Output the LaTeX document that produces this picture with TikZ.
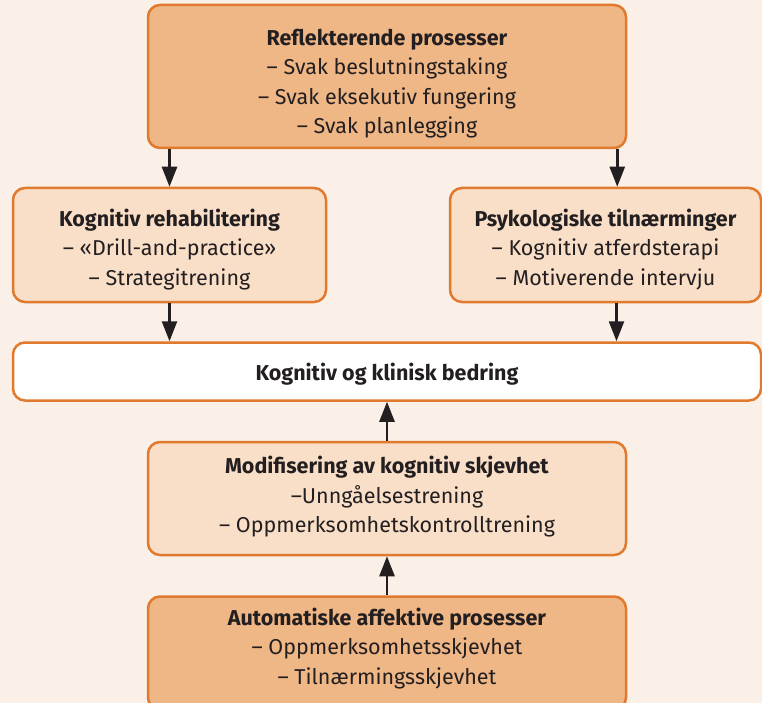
\documentclass[tikz,border=0pt]{standalone}
\usepackage{fontspec}
\setmainfont{Fira Sans}
\usetikzlibrary{positioning,arrows.meta}

\definecolor{bgpeach}{HTML}{FAF0E8}
\definecolor{boxdark}{HTML}{EFB686}
\definecolor{boxlight}{HTML}{F9DEC8}
\definecolor{boxedge}{HTML}{E07A2E}
\definecolor{inkdark}{HTML}{231F20}

% centred lines of a box, lowered by #1 without changing the box size
\newcommand{\stagetext}[2]{\raisebox{#1}[\height][\depth]{\begin{tabular}{@{}c@{}}#2\end{tabular}}}

\tikzset{
    stagebox/.style={
        rectangle,
        rounded corners=12pt,
        draw=boxedge,
        line width=2.5pt,
        inner sep=0pt,
        text=inkdark,
        font=\fontsize{21.5}{29.5}\selectfont
    },
    darkbox/.style={stagebox, fill=boxdark},
    lightbox/.style={stagebox, fill=boxlight},
    flowarrow/.style={
        draw=inkdark,
        line width=2.5pt,
        -{Triangle[length=20pt,width=15pt]}
    }
}

\begin{document}
\begin{tikzpicture}[x=1pt, y=-1pt]

    \fill[bgpeach] (0,0) rectangle (762,703);
    \useasboundingbox (0,0) rectangle (762,703);

    \node[darkbox, minimum width=478pt, minimum height=143pt] (refl) at (387,76.5)
        {\stagetext{-7pt}{\textbf{Reflekterende prosesser}\\– Svak beslutningstaking\\– Svak eksekutiv fungering\\– Svak planlegging}};

    \node[stagebox, fill=white, minimum width=748pt, minimum height=58pt] (bedring) [below=192pt of refl]
        {\stagetext{-3pt}{\textbf{Kognitiv og klinisk bedring}}};

    \node[lightbox, minimum width=313pt, minimum height=114pt] (rehab) [above right=38pt and 0pt of bedring.north west]
        {\stagetext{-5pt}{\textbf{Kognitiv rehabilitering}\\– «Drill-and-practice»\\– Strategitrening}};
    \node[lightbox, minimum width=311pt, minimum height=114pt] (psyk) [above left=38pt and 0pt of bedring.north east]
        {\stagetext{-5pt}{\textbf{Psykologiske tilnærminger}\\– Kognitiv atferdsterapi\\– Motiverende intervju}};

    \node[lightbox, minimum width=478pt, minimum height=113pt] (modif) [below=39pt of bedring]
        {\stagetext{1pt}{\textbf{Modifisering av kognitiv skjevhet}\\–Unngåelsestrening\\– Oppmerksomhetskontrolltrening}};
    \node[darkbox, minimum width=478pt, minimum height=113pt] (auto) [below=39pt of modif]
        {\stagetext{4pt}{\textbf{Automatiske affektive prosesser}\\– Oppmerksomhetsskjevhet\\– Tilnærmingsskjevhet}};

    % Arrows
    \coordinate (reflR) at ([xshift=-10pt]refl.south east);
    \coordinate (psykR) at ([xshift=11pt]psyk.south);
    \draw[flowarrow] (refl.south -| rehab.north) -- (rehab.north);
    \draw[flowarrow] (reflR) -- (reflR |- psyk.north);
    \draw[flowarrow] (rehab.south) -- (rehab.south |- bedring.north);
    \draw[flowarrow] (psykR) -- (psykR |- bedring.north);
    \draw[flowarrow] (modif.north) -- (bedring.south);
    \draw[flowarrow] (auto.north) -- (modif.south);

\end{tikzpicture}
\end{document}
